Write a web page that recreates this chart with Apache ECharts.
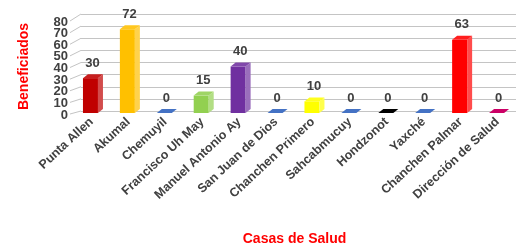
<!DOCTYPE html>
<html>
<head>
<meta charset="utf-8">
<script src="https://cdn.jsdelivr.net/npm/echarts@6/dist/echarts.min.js"></script>
<style>
  html, body { margin: 0; padding: 0; background: #fff; }
  #chart { width: 520px; height: 247px; }
</style>
</head>
<body>
<div id="chart"></div>
<script>
const categories = ['Punta Allen', 'Akumal', 'Chemuyil', 'Francisco Uh May', 'Manuel Antonio Ay',
  'San Juan de Dios', 'Chanchen Primero', 'Sahcabmucuy', 'Hondzonot', 'Yaxché', 'Chanchen Palmar', 'Dirección de Salud']
const values = [30, 72, 0, 15, 40, 0, 10, 0, 0, 0, 63, 0]
const barColors = ['#C00000', '#FFC000', '#4472C4', '#92D050', '#7030A0', '#4472C4',
  '#FFFF00', '#4472C4', '#000000', '#4472C4', '#FF0000', '#CC0066']
const yTicks = [0, 10, 20, 30, 40, 50, 60, 70, 80]

const chart = echarts.init(document.getElementById('chart'))

// profundidad del efecto 3D
const DX = 5, DY = -4
const WALL_DX = 11, WALL_DY = -7
const GRID = { left: 73, right: 4, top: 20, bottom: 130 }
const GRID_COLOR = '#C4C4C4'

const renderBar = (params, api) => {
  const idx = api.value(0)
  const v = api.value(1)
  const base = api.coord([idx, 0])
  const top = api.coord([idx, v])
  const w = 15
  const left = base[0] - w / 2 - 1
  const c = barColors[idx]
  const side = c === '#000000' ? '#000000' : echarts.color.lift(c, 0.3)
  const topC = c === '#000000' ? '#222222' : echarts.color.lift(c, 0.12)
  const children = []
  if (v > 0) {
    children.push({
      type: 'rect',
      shape: { x: left, y: top[1], width: w, height: base[1] - top[1] },
      style: { fill: c }
    })
    children.push({
      type: 'polygon',
      shape: { points: [[left + w, top[1]], [left + w + DX, top[1] + DY], [left + w + DX, base[1] + DY], [left + w, base[1]]] },
      style: { fill: side }
    })
  }
  children.push({
    type: 'polygon',
    shape: { points: [[left, top[1]], [left + DX, top[1] + DY], [left + w + DX, top[1] + DY], [left + w, top[1]]] },
    style: { fill: v > 0 ? topC : c }
  })
  children.push({
    type: 'text',
    x: left + w / 2 + 2,
    y: top[1] - 15,
    style: {
      text: String(v),
      align: 'center',
      verticalAlign: 'middle',
      fill: '#404040',
      font: 'bold 13px "Liberation Sans", Arial, sans-serif'
    }
  })
  return { type: 'group', children }
}

const option = {
  animation: false,
  backgroundColor: '#fff',
  grid: [
    GRID,
    // pared del fondo (desplazada por la profundidad)
    { left: GRID.left + WALL_DX - 3, right: GRID.right, top: GRID.top + WALL_DY + 1, bottom: GRID.bottom - WALL_DY - 1 }
  ],
  xAxis: [
    {
      type: 'category',
      gridIndex: 0,
      data: categories,
      boundaryGap: true,
      name: 'Casas de Salud',
      nameLocation: 'middle',
      nameGap: 119,
      nameTextStyle: { color: '#FF0000', fontWeight: 'bold', fontSize: 14, fontFamily: 'Liberation Sans' },
      axisLine: { show: false },
      axisTick: { show: false },
      axisLabel: {
        interval: 0,
        rotate: 43,
        margin: 7,
        color: '#404040',
        fontWeight: 'bold',
        fontSize: 12.5,
        fontFamily: 'Liberation Sans'
      }
    },
    { type: 'category', gridIndex: 1, data: categories, show: false }
  ],
  yAxis: [
    {
      type: 'value',
      gridIndex: 0,
      min: 0,
      max: 80,
      interval: 10,
      name: 'Beneficiados',
      nameLocation: 'middle',
      nameGap: 42,
      nameRotate: 90,
      nameTextStyle: { color: '#FF0000', fontWeight: 'bold', fontSize: 14, fontFamily: 'Liberation Sans' },
      axisLine: { show: false },
      axisTick: { show: false },
      splitLine: { show: false },
      axisLabel: { show: false }
    },
    {
      type: 'value',
      gridIndex: 1,
      min: 0,
      max: 80,
      interval: 10,
      axisLine: { show: false },
      axisTick: { show: false },
      axisLabel: { show: false },
      splitLine: { show: true, lineStyle: { color: GRID_COLOR, width: 1 } }
    }
  ],
  series: [
    {
      name: 'Beneficiados',
      type: 'custom',
      xAxisIndex: 0,
      yAxisIndex: 0,
      z: 2,
      renderItem: renderBar,
      encode: { x: 0, y: 1 },
      data: values.map((v, i) => [i, v])
    }
  ]
}

chart.setOption(option)

// líneas diagonales de la pared lateral y etiquetas del eje Y, a partir de las escalas
const extras = []
yTicks.forEach(v => {
  const p = chart.convertToPixel({ xAxisIndex: 0, yAxisIndex: 0 }, [0, v])
  const q = chart.convertToPixel({ xAxisIndex: 1, yAxisIndex: 1 }, [0, v])
  extras.push({
    type: 'line',
    z: 1,
    shape: { x1: GRID.left - 3, y1: p[1] + 1, x2: GRID.left + WALL_DX - 3, y2: q[1] },
    style: { stroke: GRID_COLOR, lineWidth: 1 },
    silent: true
  })
  extras.push({
    type: 'text',
    z: 3,
    x: GRID.left - 5,
    y: p[1] + 2,
    style: {
      text: String(v),
      align: 'right',
      verticalAlign: 'middle',
      fill: '#404040',
      font: 'bold 13px "Liberation Sans", Arial, sans-serif'
    }
  })
})
chart.setOption({ graphic: extras })
</script>
</body>
</html>
